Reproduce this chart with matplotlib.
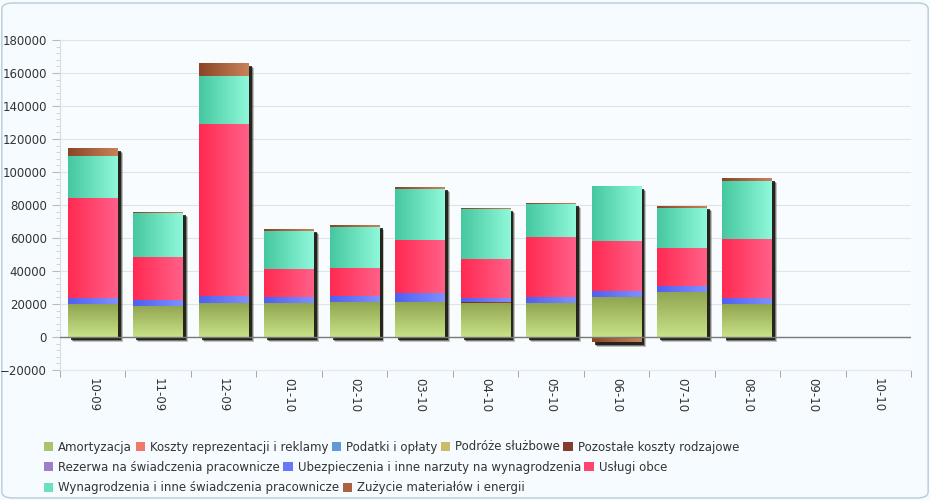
import numpy as np
import matplotlib.pyplot as plt
from matplotlib.patches import Patch, Rectangle, FancyBboxPatch
from matplotlib.colors import LinearSegmentedColormap, to_rgb
from matplotlib.ticker import MultipleLocator, AutoMinorLocator
import matplotlib.patheffects as pe

months = ["10-09", "11-09", "12-09", "01-10", "02-10", "03-10", "04-10",
          "05-10", "06-10", "07-10", "08-10", "09-10", "10-10"]

series_names = ["Amortyzacja", "Koszty reprezentacji i reklamy", "Podatki i opłaty",
                "Podróże służbowe", "Pozostałe koszty rodzajowe",
                "Rezerwa na świadczenia pracownicze",
                "Ubezpieczenia i inne narzuty na wynagrodzenia", "Usługi obce",
                "Wynagrodzenia i inne świadczenia pracownicze",
                "Zużycie materiałów i energii"]

amortyzacja = [20000, 18800, 20600, 20600, 21000, 21000, 20800, 20600, 24200, 27300, 20000, 0, 0]
koszty_repr = [0] * 13
podatki = [0] * 13
podroze = [0] * 13
pozostale = [300, 0, 0, 0, 400, 0, 300, 0, 300, 0, 0, 0, 0]
rezerwa = [0] * 13
ubezpieczenia = [3300, 3600, 4200, 3600, 3400, 5700, 2500, 3600, 3400, 3600, 3600, 0, 0]
uslugi_obce = [60600, 26100, 104200, 17000, 17200, 32100, 23700, 36400, 30300, 23000, 35800, 0, 0]
wynagrodzenia = [25500, 26600, 29200, 23000, 24700, 30900, 30300, 20000, 33300, 24300, 35100, 0, 0]
zuzycie = [4800, 700, 7800, 1200, 1300, 1200, 600, 600, -3000, 1200, 1900, 0, 0]

values = [amortyzacja, koszty_repr, podatki, podroze, pozostale, rezerwa,
          ubezpieczenia, uslugi_obce, wynagrodzenia, zuzycie]

# (dark, light, direction) per series
colors = [("#90a54f", "#c8e289", "v"), ("#e8604f", "#f59383", "h"),
          ("#4a80c8", "#7aaee8", "h"), ("#b8a850", "#dccf80", "h"),
          ("#6e2e20", "#9a4a38", "h"), ("#8a68b8", "#b094d8", "h"),
          ("#4f5ff0", "#8090ff", "h"), ("#ff2a52", "#ff6088", "h"),
          ("#45c89f", "#8ff8da", "h"), ("#8a4527", "#c8825a", "h")]

BG = "#f5fbfe"


def mid(c1, c2):
    a, b = np.array(to_rgb(c1)), np.array(to_rgb(c2))
    return tuple((a + b) / 2)


def gradient_fill(ax, rect, c1, c2, direction):
    cmap = LinearSegmentedColormap.from_list("g", [c1, c2])
    x, y = rect.get_x(), rect.get_y()
    w, h = rect.get_width(), rect.get_height()
    if direction == "h":
        grad = np.linspace(0, 1, 64).reshape(1, -1)
    else:
        # dark at the top, light at the bottom
        grad = np.linspace(0, 1, 64).reshape(-1, 1)
    im = ax.imshow(grad, cmap=cmap, aspect="auto", origin="upper",
                   extent=(x, x + w, y, y + h) if direction == "v" else (x, x + w, y, y + h),
                   zorder=3, interpolation="bilinear")
    if direction == "v":
        im.set_extent((x, x + w, min(y, y + h), max(y, y + h)))
        im.origin = "lower"
        im.set_data(grad[::-1])
    im.set_clip_path(rect)


def main():
    fig = plt.figure(figsize=(9.3, 5.0), dpi=100, facecolor=BG)
    fig.patches.append(FancyBboxPatch((0.002, 0.004), 0.996, 0.99,
                                      boxstyle="round,pad=0,rounding_size=0.012",
                                      transform=fig.transFigure, facecolor=BG,
                                      edgecolor="#b9ccd6", linewidth=1.0, zorder=-10))
    ax = fig.add_axes([60 / 930, 1 - 370 / 500, 851 / 930, 330 / 500])
    ax.set_facecolor("#f8fcfe")

    x = np.arange(len(months))
    width = 0.76
    vals = np.array(values, dtype=float)
    pos_bottom = np.zeros(len(months))
    neg_bottom = np.zeros(len(months))

    # soft shadow behind each stack
    top = np.where(vals > 0, vals, 0).sum(axis=0)
    bot = np.where(vals < 0, vals, 0).sum(axis=0)
    for i in range(len(months)):
        if top[i] - bot[i] <= 0:
            continue
        r = Rectangle((x[i] - width / 2, bot[i]), width, top[i] - bot[i],
                      facecolor="black", zorder=2)
        r.set_path_effects([
            pe.SimplePatchShadow(offset=(3.6, -3.6), shadow_rgbFace="#202015", alpha=0.25),
            pe.SimplePatchShadow(offset=(2.9, -2.9), shadow_rgbFace="#202015", alpha=0.45),
            pe.SimplePatchShadow(offset=(2.2, -2.2), shadow_rgbFace="#101008", alpha=0.8),
        ])
        ax.add_patch(r)

    for k, name in enumerate(series_names):
        v = vals[k]
        bottoms = np.where(v >= 0, pos_bottom, neg_bottom)
        bars = ax.bar(x, v, width, bottom=bottoms, color=colors[k][1], zorder=3,
                      linewidth=0)
        for b, val in zip(bars, v):
            if val != 0:
                gradient_fill(ax, b, colors[k][0], colors[k][1], colors[k][2])
        pos_bottom += np.where(v > 0, v, 0)
        neg_bottom += np.where(v < 0, v, 0)

    ax.set_xlim(-0.5, len(months) - 0.5)
    ax.set_ylim(-20000, 180000)
    ax.yaxis.set_major_locator(MultipleLocator(20000))
    ax.yaxis.set_minor_locator(AutoMinorLocator(5))
    ax.grid(axis="y", which="major", color="#dde4ea", linewidth=0.8, zorder=0)
    ax.axhline(0, color="#7a7a7a", linewidth=1.0, zorder=4)

    ax.set_xticks(x)
    ax.set_xticklabels(months, rotation=270, fontsize=8.5, color="#333333")
    ax.set_xticks(np.arange(-0.5, len(months)), minor=True)
    ax.tick_params(axis="x", which="major", length=0, pad=6)
    ax.tick_params(axis="x", which="minor", length=5, color="#999999", direction="out")
    ax.tick_params(axis="y", which="major", length=6, color="#bbbbbb", labelsize=8.5,
                   labelcolor="#333333")
    ax.tick_params(axis="y", which="minor", length=3, color="#cccccc")
    for s in ["top", "right"]:
        ax.spines[s].set_visible(False)
    ax.spines["left"].set_color("#d8dde2")
    ax.spines["bottom"].set_color("#e4e8ec")

    # legend in three flowing rows
    rows = [[0, 1, 2, 3, 4], [5, 6, 7], [8, 9]]
    ys = [447, 467, 488]
    for row, yy in zip(rows, ys):
        handles = [Patch(facecolor=mid(colors[k][0], colors[k][1]),
                         edgecolor="none", label=series_names[k]) for k in row]
        leg = fig.legend(handles=handles, loc="center left",
                         bbox_to_anchor=(44 / 930, 1 - yy / 500), ncol=len(row),
                         frameon=False, fontsize=8.5, handlelength=0.8,
                         handleheight=0.8, handletextpad=0.4, columnspacing=0.3,
                         borderpad=0, borderaxespad=0)
        for t in leg.get_texts():
            t.set_color("#333333")

    fig.savefig("out.png", dpi=100, facecolor=BG)


if __name__ == '__main__':
    main()
